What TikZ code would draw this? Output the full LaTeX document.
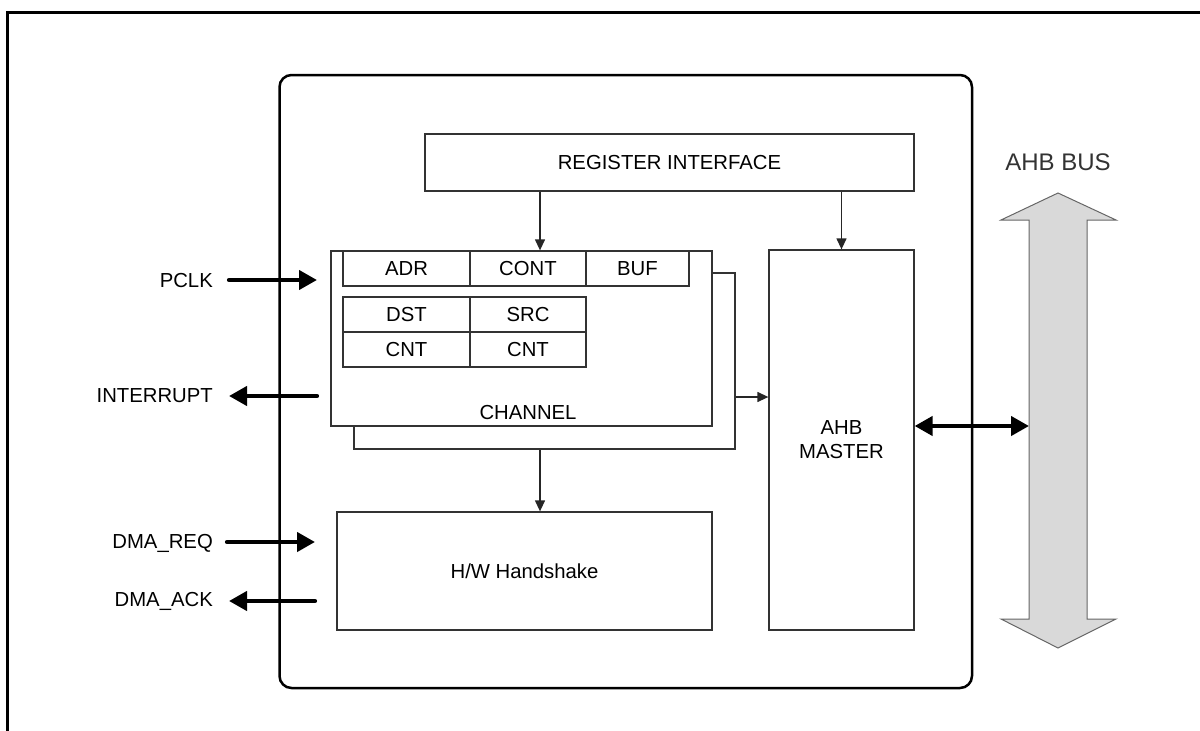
\documentclass[tikz,border=0pt]{standalone}
\usepackage{fontspec}
\setmainfont{Liberation Sans}
\usetikzlibrary{arrows.meta,calc}
\begin{document}
\begin{tikzpicture}[x=1pt,y=-1pt,
  box/.style={draw=black!80,line width=1.3pt,fill=white,inner sep=0pt,font=\fontsize{20.3}{24}\selectfont},
  lbl/.style={font=\fontsize{20.3}{24}\selectfont,inner sep=0pt},
  thinarr/.style={draw=black!85,line width=1.3pt,-{Triangle[length=11pt,width=10pt]}},
  sigarr/.style={line width=4.2pt,line cap=round,-{Triangle[length=18pt,width=19pt]}},
  busarr/.style={line width=4.2pt,{Triangle[length=18pt,width=19pt]}-{Triangle[length=18pt,width=19pt]}}]
\useasboundingbox (0,0) rectangle (1200,731);
% outer frame
\draw[line width=3pt] (7.5,731) -- (7.5,12) -- (1200,12);
% main rounded box
\node[draw=black,line width=2.5pt,rounded corners=12pt,minimum width=692.5pt,minimum height=613pt,inner sep=0pt] (main) at (625.75,381.5) {};
% register interface
\node[box,minimum width=489pt,minimum height=57pt] (reg) at (669.5,162.5) {REGISTER INTERFACE};
% channel (back and front)
\node[box,minimum width=381pt,minimum height=176pt] (chanback) at (544.5,361) {};
\node[box,minimum width=381pt,minimum height=175pt] (chan) at (521.5,338.5) {};
% cells
\node[box,minimum width=127pt,minimum height=35pt] (adr) at (406.5,268.5) {ADR};
\node[box,minimum width=116pt,minimum height=35pt] (cont) at (528,268.5) {CONT};
\node[box,minimum width=103pt,minimum height=35pt] (buf) at (637.5,268.5) {BUF};
\node[box,minimum width=127pt,minimum height=35pt] (dst) at (406.5,314.5) {DST};
\node[box,minimum width=116pt,minimum height=35pt] (src) at (528,314.5) {SRC};
\node[box,minimum width=127pt,minimum height=35pt] (cnta) at (406.5,349.5) {CNT};
\node[box,minimum width=116pt,minimum height=35pt] (cntb) at (528,349.5) {CNT};
\node[lbl] (chanlbl) at (528,413) {CHANNEL};
% AHB master
\node[box,minimum width=145pt,minimum height=380pt,align=center] (master) at (841.5,440) {AHB\\MASTER};
% handshake
\node[box,minimum width=375pt,minimum height=118pt] (hs) at (524.5,571) {H/W Handshake};
% internal connectors
\coordinate (regx) at (540,0);
\draw[thinarr] (reg.south -| regx) -- (chan.north -| regx);
\draw[thinarr] (reg.south -| master) -- (master.north);
\draw[thinarr] (chanback.east |- 0,397) -- (master.west |- 0,397);
\draw[thinarr] (chanback.south -| regx) -- (hs.north -| regx);
% left signals
\node[lbl,anchor=east] (pclk) at (213,281) {PCLK};
\node[lbl,anchor=east] (intr) at (213,396) {INTERRUPT};
\node[lbl,anchor=east] (req) at (213,543) {DMA\_REQ};
\node[lbl,anchor=east] (ack) at (213,601) {DMA\_ACK};
\coordinate (pclkE) at (317,280);
\coordinate (intrE) at (317,396);
\coordinate (reqE) at (315,542);
\coordinate (ackE) at (315,601);
\draw[sigarr] ([xshift=16pt]pclk.east |- pclkE) -- (pclkE);
\draw[sigarr] (intrE) -- ([xshift=16pt]intr.east |- intrE);
\draw[sigarr] ([xshift=14pt]req.east |- reqE) -- (reqE);
\draw[sigarr] (ackE) -- ([xshift=16pt]ack.east |- ackE);
% AHB bus
\node[font=\fontsize{24}{28}\selectfont,text=black!80,inner sep=0pt] (buslbl) at (1058,162) {AHB BUS};
\draw[draw=black!60,fill=black!15,line width=1pt] (1058,193) -- (1116,220) -- (1087,220) -- (1087,619) -- (1116,619) -- (1058,648) -- (1001,619) -- (1029,619) -- (1029,220) -- (1001,220) -- cycle;
\coordinate (bus) at (1029,426);
\draw[busarr] (master.east |- bus) -- (bus);
\end{tikzpicture}
\end{document}
